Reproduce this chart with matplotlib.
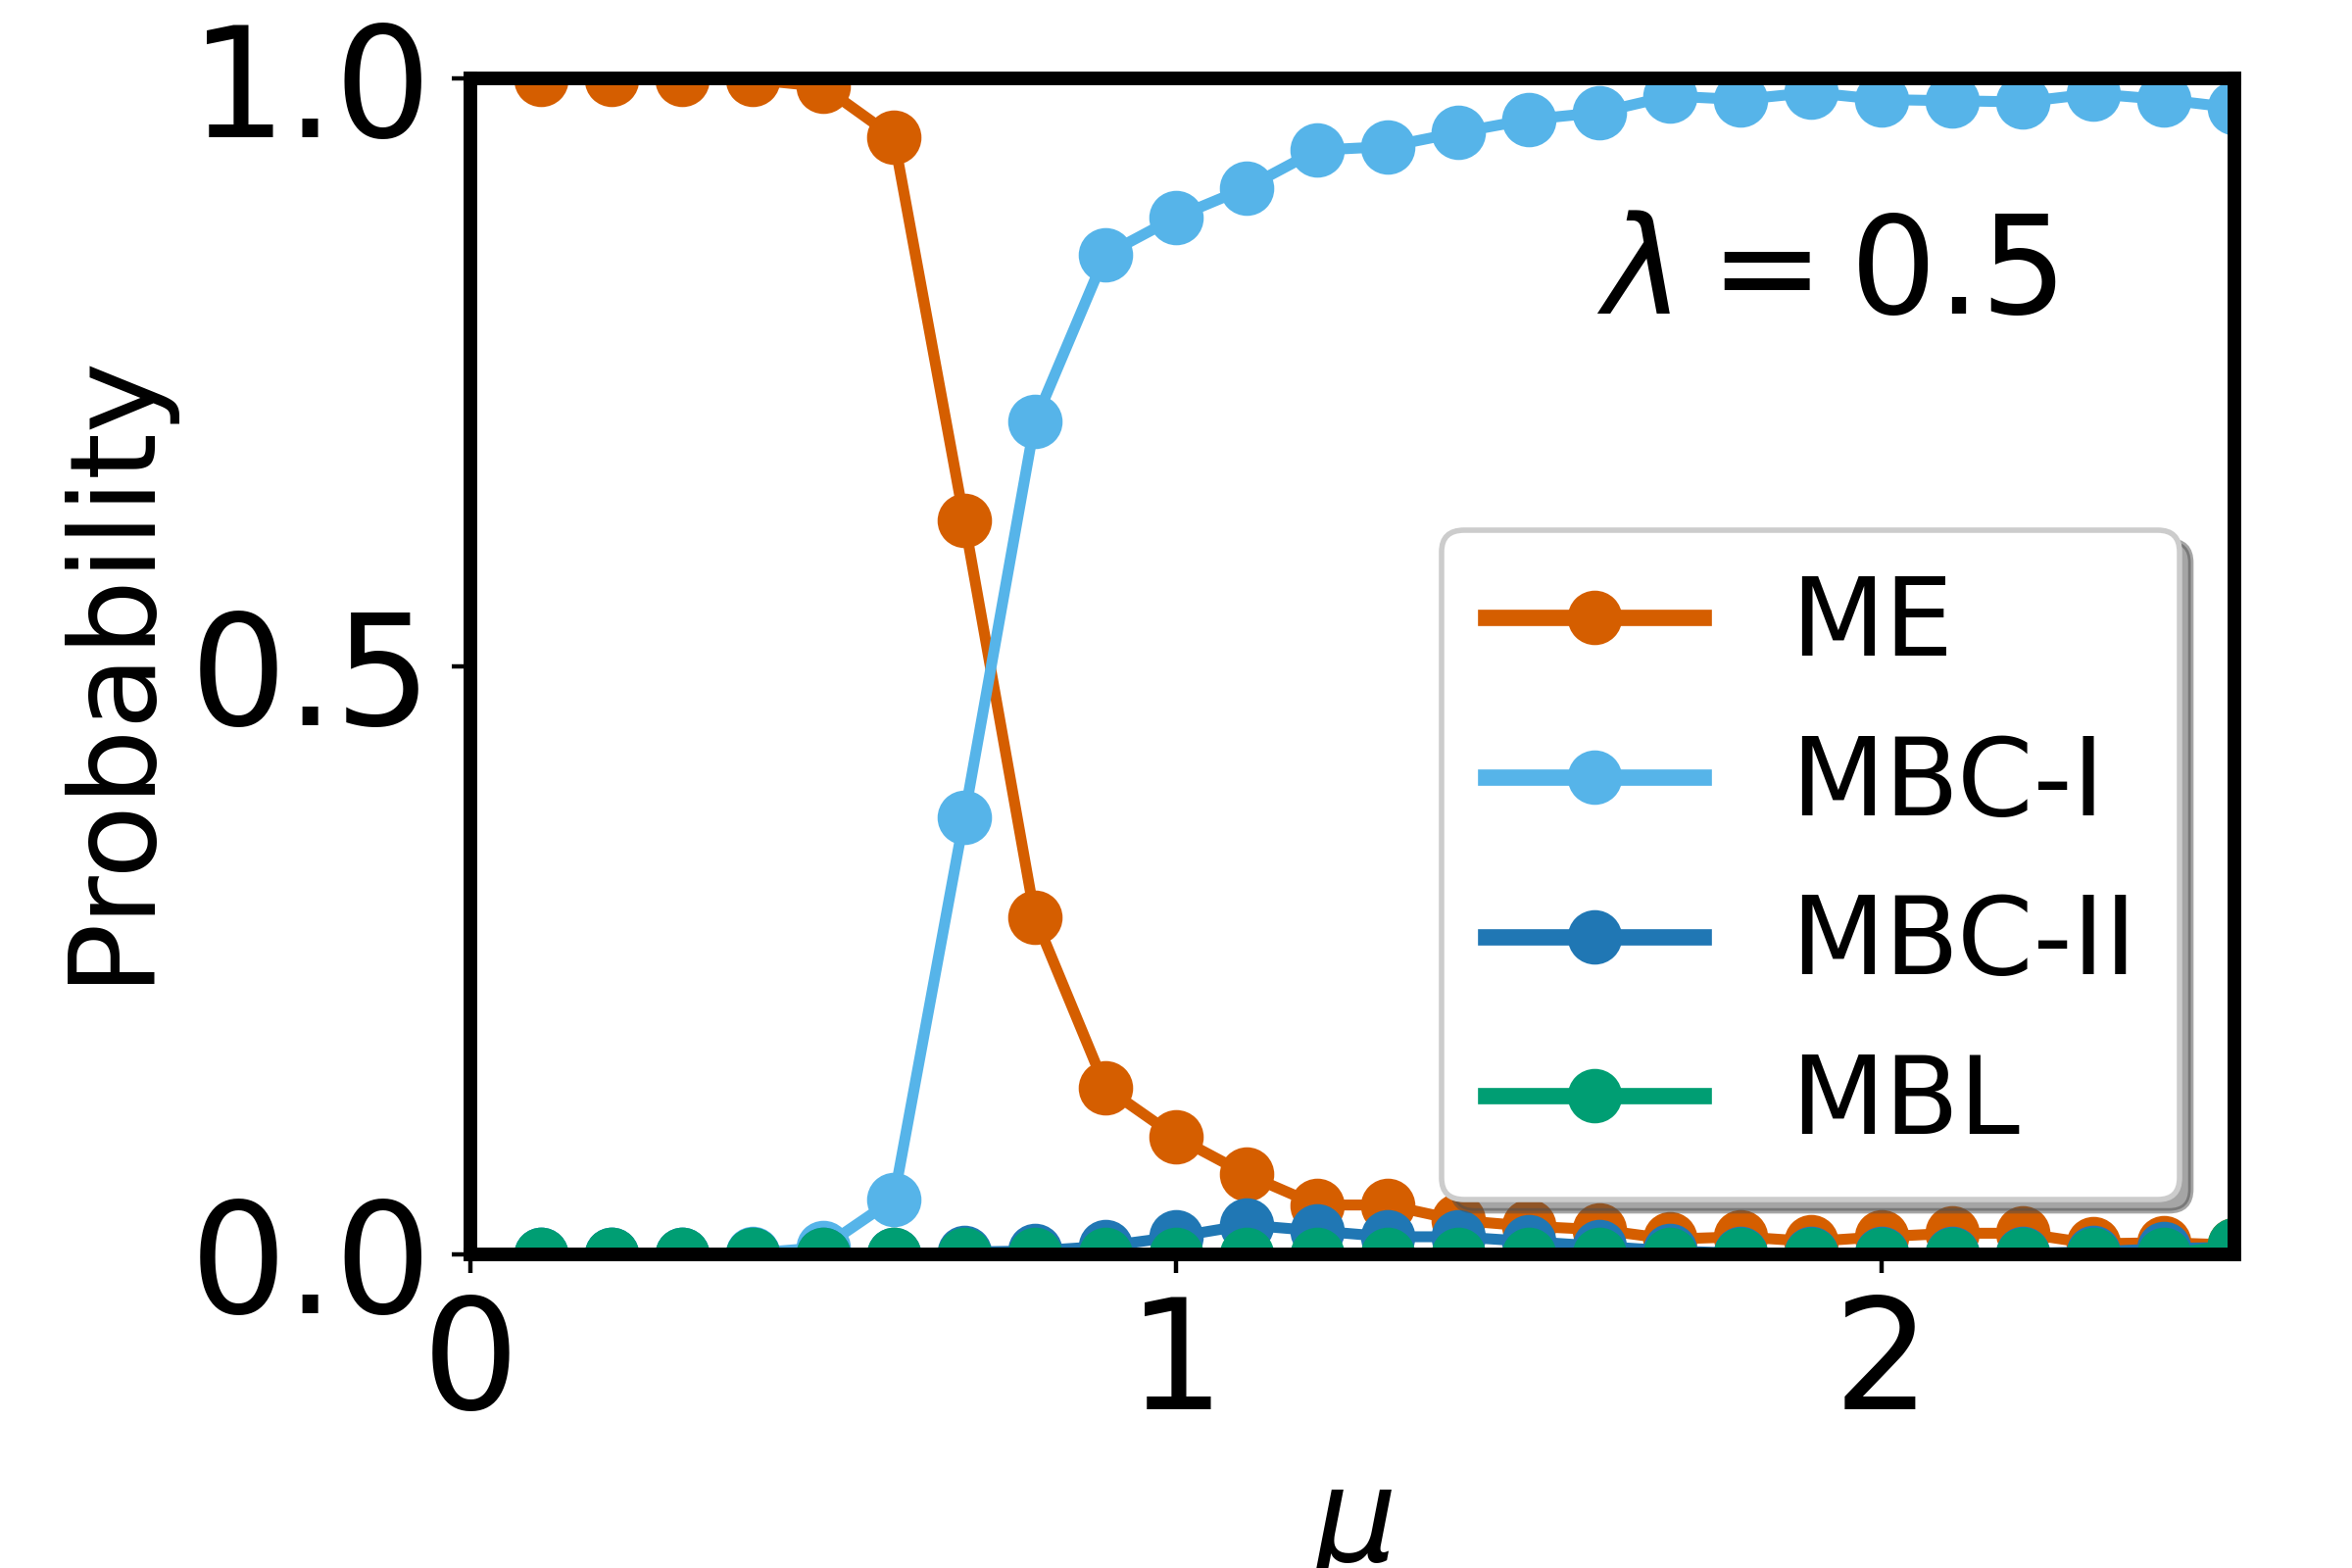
import numpy as np
import matplotlib
matplotlib.use('Agg')
import matplotlib.pyplot as plt

# datos
mu = [0.1, 0.2, 0.3, 0.4, 0.5, 0.6, 0.7, 0.8, 0.9, 1.0, 1.1, 1.2, 1.3,
      1.4, 1.5, 1.6, 1.7, 1.8, 1.9, 2.0, 2.1, 2.2, 2.3, 2.4, 2.5]
me = [0.999, 0.999, 0.999, 0.999, 0.993, 0.950, 0.624, 0.287, 0.142, 0.100,
      0.068, 0.042, 0.042, 0.029, 0.024, 0.021, 0.013, 0.015, 0.011, 0.015,
      0.018, 0.018, 0.009, 0.010, 0.008]
mbc1 = [0.0, 0.0, 0.0, 0.001, 0.006, 0.047, 0.372, 0.708, 0.850, 0.882,
        0.907, 0.939, 0.942, 0.954, 0.965, 0.971, 0.985, 0.982, 0.988, 0.982,
        0.981, 0.980, 0.987, 0.982, 0.975]
mbc2 = [0.0, 0.0, 0.0, 0.0, 0.0, 0.0, 0.002, 0.003, 0.007, 0.015,
        0.025, 0.020, 0.015, 0.015, 0.011, 0.007, 0.003, 0.001, 0.001, 0.001,
        0.001, 0.001, 0.002, 0.005, 0.006]
mbl = [0.0, 0.0, 0.0, 0.0, 0.0, 0.0, 0.0, 0.0, 0.0, 0.0,
       0.0, 0.0, 0.0, 0.0, 0.0, 0.0, 0.0, 0.0, 0.0, 0.0,
       0.0, 0.0, 0.0, 0.0, 0.008]

series = [('ME', me, '#D55E00'),
          ('MBC-I', mbc1, '#56B4E9'),
          ('MBC-II', mbc2, '#2077B4'),
          ('MBL', mbl, '#009E73')]

fig, ax = plt.subplots(figsize=(6, 4), dpi=400)
fig.subplots_adjust(left=0.2, right=0.95, bottom=0.2, top=0.95)

for nombre, valores, color in series:
    ax.plot(mu, valores, '-o', color=color, lw=2, ms=9, label=nombre)

ax.set_xlim(0, 2.5)
ax.set_ylim(0, 1)
ax.set_xticks([0, 1, 2])
ax.set_yticks([0, 0.5, 1.0])
ax.tick_params(labelsize=28)
for s in ax.spines.values():
    s.set_linewidth(2.5)

ax.set_xlabel(r'$\mu$', fontsize=24)
ax.set_ylabel('Probability', fontsize=22)

ax.text(0.769, 0.80, r'$\lambda = 0.5$', fontsize=25, ha='center',
        va='baseline', transform=ax.transAxes)

leg = ax.legend(loc='lower right', fontsize=20, shadow=True)
for l in leg.get_lines():
    l.set_linewidth(3)

fig.savefig('out.png', dpi=400)
